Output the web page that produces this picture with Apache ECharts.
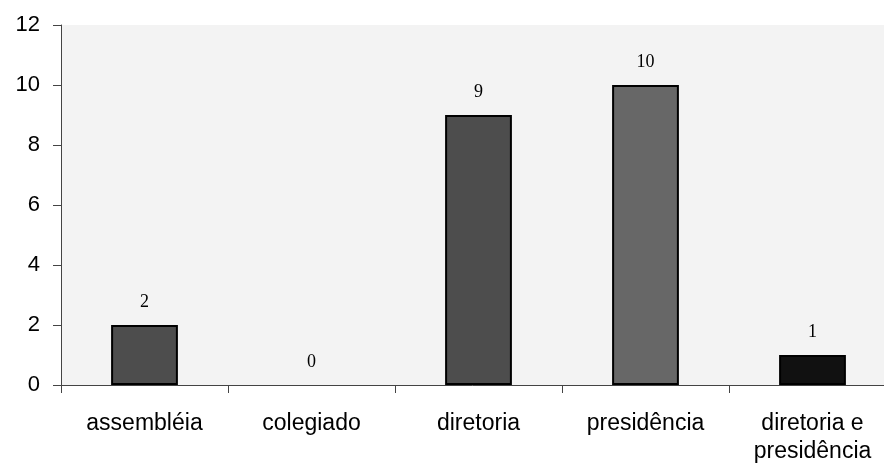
<!DOCTYPE html>
<html>
<head>
<meta charset="utf-8">
<script src="https://cdn.jsdelivr.net/npm/echarts@6/dist/echarts.min.js"></script>
<style>
  html, body { margin: 0; padding: 0; background: #ffffff; }
  #chart { width: 884px; height: 469px; }
</style>
</head>
<body>
<div id="chart"></div>
<script>
// Categories and counts
const categories = ['assembléia', 'colegiado', 'diretoria', 'presidência', 'diretoria e\npresidência'];
const counts = [2, 0, 9, 10, 1];
const barColors = ['#4d4d4d', '#4d4d4d', '#4d4d4d', '#676767', '#111111'];
const yTicks = [0, 2, 4, 6, 8, 10, 12];

const chart = echarts.init(document.getElementById('chart'));
chart.setOption({
  animation: false,
  grid: {
    left: 61, top: 25, width: 835, height: 360,
    outerBoundsMode: 'none', containLabel: false,
    show: true, backgroundColor: '#f3f3f3', borderWidth: 0
  },
  xAxis: {
    type: 'category',
    data: categories,
    axisLine: { lineStyle: { color: '#444', width: 1 } },
    axisTick: { show: true, length: 8, lineStyle: { color: '#444' } },
    axisLabel: {
      color: '#000', fontFamily: 'Liberation Sans, Arial', fontSize: 23,
      margin: 25, lineHeight: 28, interval: 0
    }
  },
  yAxis: {
    type: 'value',
    min: yTicks[0], max: yTicks[yTicks.length - 1], interval: 2,
    splitLine: { show: false },
    axisLine: { show: true, lineStyle: { color: '#444', width: 1 } },
    axisTick: { show: true, length: 8, lineStyle: { color: '#444' } },
    axisLabel: {
      color: '#000', fontFamily: 'Liberation Sans, Arial', fontSize: 22, margin: 21
    }
  },
  series: [{
    type: 'bar',
    data: counts.map((v, i) => ({
      value: v,
      itemStyle: { color: barColors[i], borderWidth: v === 0 ? 0 : 2 }
    })),
    barWidth: '40%',
    itemStyle: { borderColor: '#000' },
    label: {
      show: true, position: 'top', distance: 14,
      color: '#000', fontFamily: 'Liberation Serif, Times New Roman', fontSize: 18
    }
  }]
});
</script>
</body>
</html>
